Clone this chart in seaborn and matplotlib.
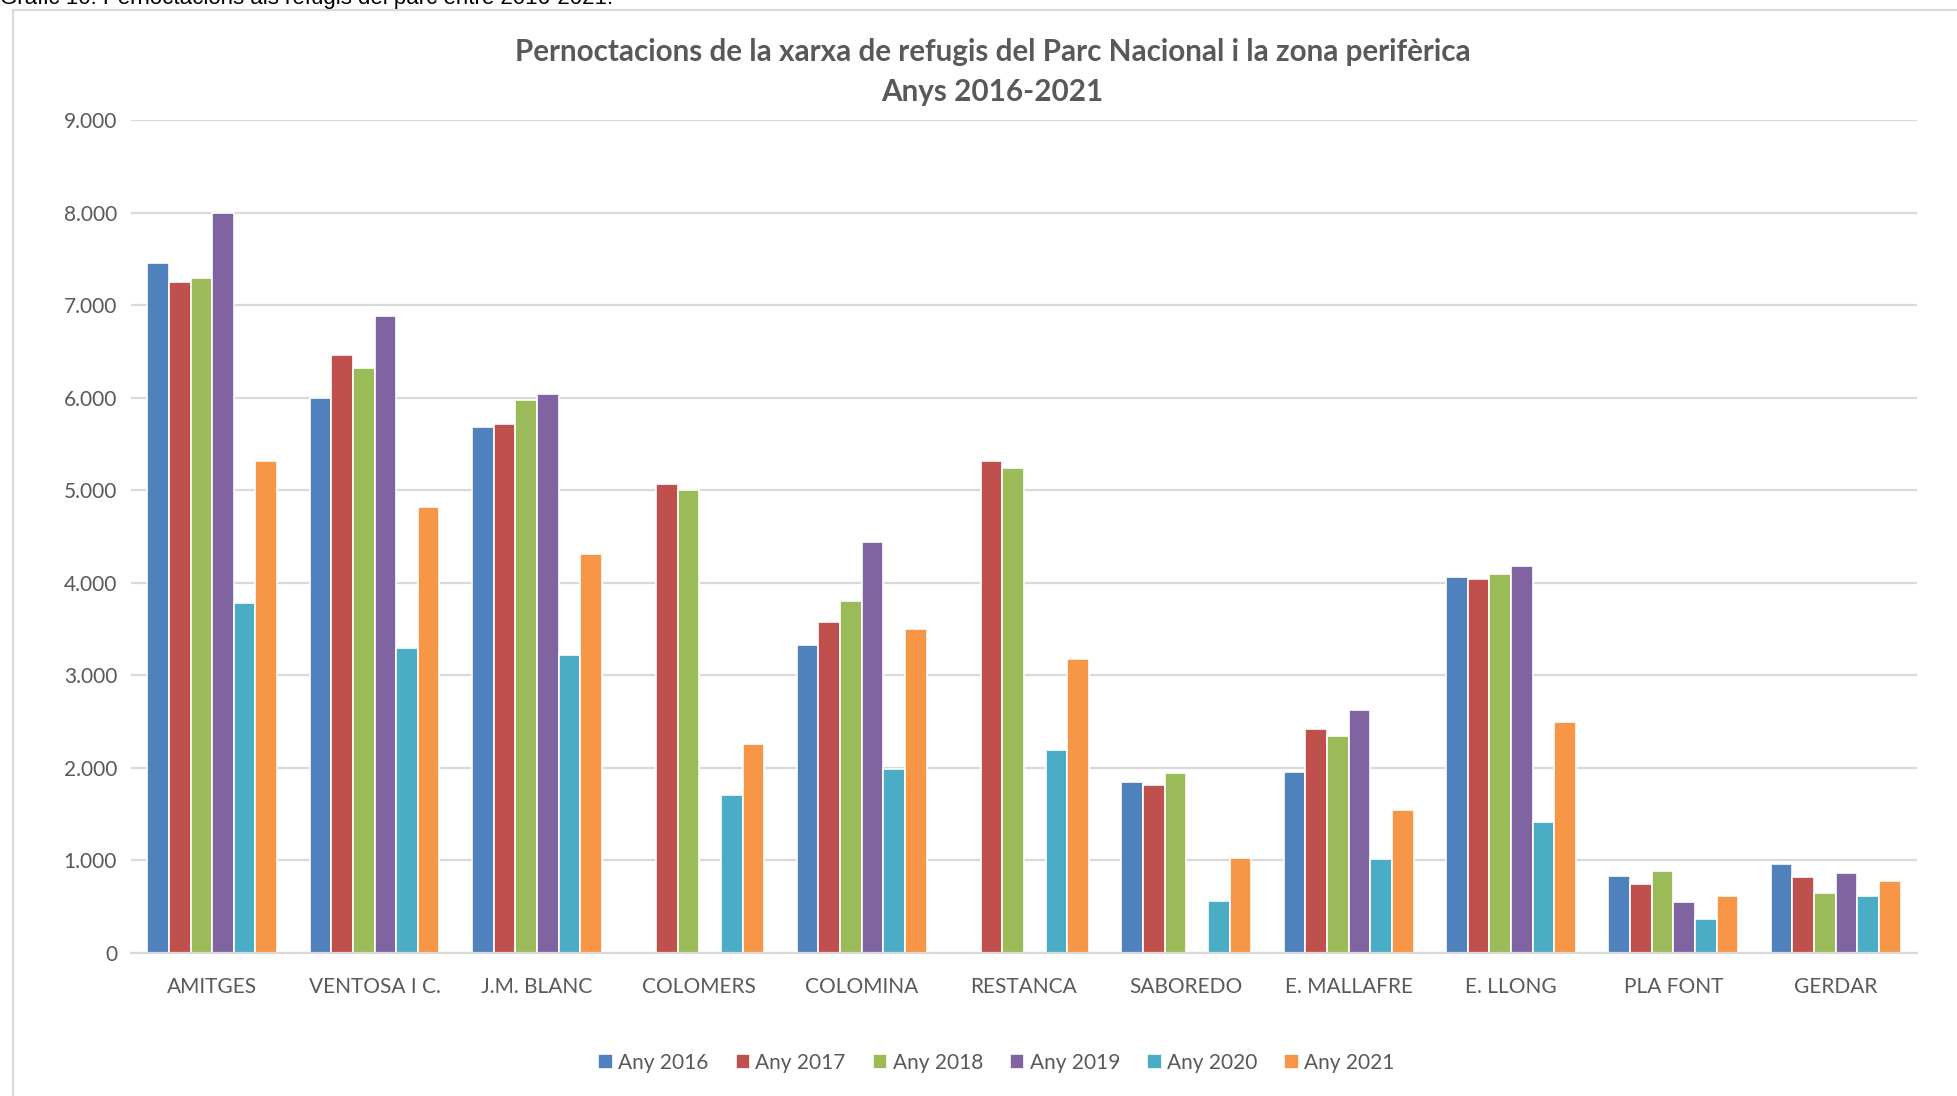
import numpy as np
import pandas as pd
import matplotlib
matplotlib.use("Agg")
import matplotlib.pyplot as plt
from matplotlib.patches import Rectangle
import seaborn as sns

categories = ["AMITGES", "VENTOSA I C.", "J.M. BLANC", "COLOMERS", "COLOMINA",
              "RESTANCA", "SABOREDO", "E. MALLAFRE", "E. LLONG", "PLA FONT", "GERDAR"]
years = ["Any 2016", "Any 2017", "Any 2018", "Any 2019", "Any 2020", "Any 2021"]

any_2016 = [7450, 6000, 5680, np.nan, 3330, np.nan, 1850, 1960, 4060, 830, 960]
any_2017 = [7250, 6460, 5720, 5070, 3580, 5320, 1820, 2420, 4040, 745, 820]
any_2018 = [7290, 6320, 5970, 5000, 3800, 5240, 1940, 2340, 4100, 890, 650]
any_2019 = [8000, 6880, 6040, np.nan, 4440, np.nan, np.nan, 2620, 4180, 550, 860]
any_2020 = [3780, 3300, 3220, 1710, 1990, 2190, 560, 1010, 1420, 370, 620]
any_2021 = [5320, 4820, 4310, 2260, 3500, 3180, 1030, 1540, 2500, 620, 780]

colors = ["#4F81BD", "#C0504D", "#9BBB59", "#8064A2", "#4BACC6", "#F79646"]

series = [any_2016, any_2017, any_2018, any_2019, any_2020, any_2021]
rows = []
for y, vals in zip(years, series):
    for c, v in zip(categories, vals):
        rows.append({"refugi": c, "any": y, "valor": v})
df = pd.DataFrame(rows)

sns.set_theme(style="white")
plt.rcParams["font.family"] = ["Lato", "DejaVu Sans"]

fig = plt.figure(figsize=(19.58, 10.96), dpi=100)
ax = fig.add_axes([0.0669, 0.1305, 0.979 - 0.0669, 0.8905 - 0.1305])

sns.barplot(data=df, x="refugi", y="valor", hue="any", order=categories,
            hue_order=years, palette=colors, width=0.8, saturation=1,
            edgecolor="white", linewidth=1.2, ax=ax, legend=True, errorbar=None)

ax.set_ylim(0, 9000)
ax.set_xlim(-0.5, len(categories) - 0.5)
ax.set_yticks(range(0, 9001, 1000))
ax.set_yticklabels([f"{v:,}".replace(",", ".") for v in range(0, 9001, 1000)])
ax.yaxis.grid(True, color="#D9D9D9", linewidth=1.6)
ax.set_axisbelow(True)
for s in ["left", "right", "top"]:
    ax.spines[s].set_visible(False)
ax.spines["bottom"].set_color("#D9D9D9")
ax.spines["bottom"].set_linewidth(1.6)
ax.tick_params(axis="both", length=0, labelsize=15, colors="#595959", pad=10)
ax.tick_params(axis="x", pad=17)
ax.set_xlabel("")
ax.set_ylabel("")

ax.set_title("Pernoctacions de la xarxa de refugis del Parc Nacional i la zona perifèrica\nAnys 2016-2021",
             fontsize=21.3, fontweight="bold", color="#595959", pad=14, linespacing=1.5,
             x=0.4825)

leg = ax.legend(loc="center", bbox_to_anchor=(0.4846, (1096 - 1063 - 143) / (953 - 120)),
                ncol=6, frameon=False, fontsize=15, handlelength=0.7, handleheight=0.7,
                handletextpad=0.25, columnspacing=1.3, labelcolor="#595959")

# outer chart border
fig.patches.append(Rectangle((13 / 1958, -0.05), 1.2, 1 - 10 / 1096 + 0.05,
                             transform=fig.transFigure, fill=False,
                             edgecolor="#D9D9D9", linewidth=1.6))

fig.text(0.0, 1 - 4 / 1096, "Gràfic 10: Pernoctacions als refugis del parc entre 2016-2021.",
         fontsize=16, color="black", family=["Liberation Sans", "DejaVu Sans"],
         va="baseline", ha="left")

fig.savefig("out.png", dpi=100)
